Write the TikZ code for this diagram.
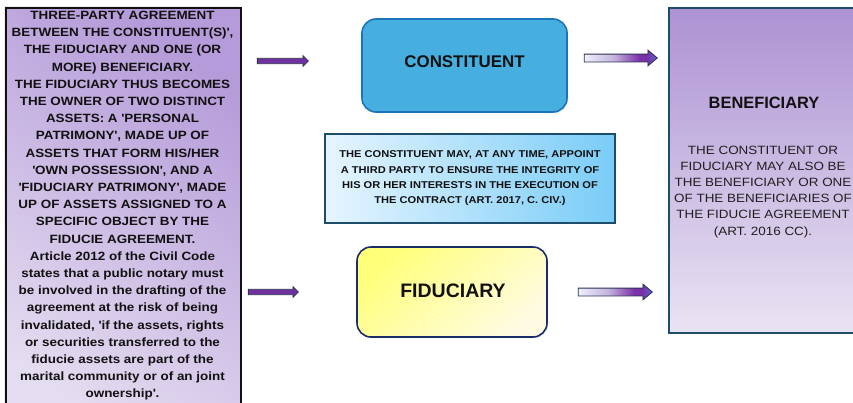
\documentclass[tikz,border=0pt]{standalone}
\usepackage{fontspec}
\setmainfont{Liberation Sans}[FakeStretch=1.12]
\newfontfamily\titlefont{Liberation Sans}
\usetikzlibrary{shapes.arrows,shadows}

\definecolor{inkblack}{HTML}{111111}
\definecolor{leftTop}{HTML}{B59BD9}
\definecolor{leftBot}{HTML}{E4DCF0}
\definecolor{constFill}{HTML}{47AFE0}
\definecolor{constLine}{HTML}{1B73B9}
\definecolor{tealLine}{HTML}{1D4D6B}
\definecolor{midLeft}{HTML}{E6F5FF}
\definecolor{midRight}{HTML}{79CCF7}
\definecolor{fidTop}{HTML}{FFFF7A}
\definecolor{fidBot}{HTML}{FFFBE2}
\definecolor{fidLine}{HTML}{1A2D6B}
\definecolor{benTop}{HTML}{AD92D3}
\definecolor{benBot}{HTML}{E9E4F3}
\definecolor{arrowPurple}{HTML}{7030A0}
\definecolor{arrowLine}{HTML}{2B3550}
\definecolor{shA}{HTML}{EEF0FA}
\definecolor{shB}{HTML}{C4B4DE}
\definecolor{shC}{HTML}{7A30A8}
\definecolor{shD}{HTML}{5A66C6}

% light-to-purple fill of the block arrows on the right
\pgfdeclarehorizontalshading{rightarrowshade}{100bp}{%
  color(0bp)=(shA); color(25bp)=(shA); color(45bp)=(shB);
  color(63bp)=(shC); color(68bp)=(shC); color(75bp)=(shD); color(100bp)=(shD)}

% straight apostrophe
\newcommand\sq{\textquotesingle}

\tikzset{
  boxshadow/.style={drop shadow={opacity=0.18, shadow xshift=1.2pt, shadow yshift=-1.2pt}},
  leftpanel/.style={draw=inkblack, line width=1.8pt, shading=axis,
    top color=leftTop, bottom color=leftBot, shading angle=-35,
    minimum width=235pt, minimum height=430pt, inner sep=0pt,
    drop shadow={opacity=0.15, shadow xshift=-1.5pt, shadow yshift=1.5pt}},
  lefttext/.style={text=inkblack, font=\bfseries\fontsize{12}{17.2}\selectfont,
    align=center, inner sep=0pt},
  constbox/.style={draw=constLine, line width=1.6pt, fill=constFill,
    rounded corners=14pt, minimum width=205pt, minimum height=93pt, boxshadow},
  notebox/.style={draw=tealLine, line width=2pt, shading=axis,
    left color=midLeft, right color=midRight,
    minimum width=290pt, minimum height=89pt, inner sep=0pt,
    font=\bfseries\fontsize{9.9}{15.3}\selectfont, text=inkblack, align=center, boxshadow},
  fidbox/.style={draw=fidLine, line width=1.6pt, shading=axis,
    top color=fidTop, bottom color=fidBot, shading angle=40,
    rounded corners=14pt, minimum width=190pt, minimum height=90pt, boxshadow},
  benbox/.style={draw=tealLine, line width=2pt, shading=axis,
    top color=benTop, bottom color=benBot,
    minimum width=188pt, minimum height=325pt, inner sep=0pt, boxshadow},
  titletext/.style={text=inkblack, font=\titlefont\bfseries\fontsize{#1}{#1}\selectfont, inner sep=0pt},
  bentext/.style={text=black!88, font=\fontsize{12}{16.1}\selectfont, align=center, inner sep=0pt},
  leftarrow/.style={single arrow, draw=arrowLine, fill=arrowPurple, line width=0.8pt,
    inner xsep=0pt, inner ysep=2.3pt, single arrow head extend=2.6pt,
    single arrow tip angle=90, minimum height=#1},
  rightarrow/.style={single arrow, draw=arrowLine, shading=rightarrowshade, line width=0.8pt,
    inner xsep=0pt, inner ysep=3.5pt, single arrow head extend=4pt,
    single arrow tip angle=80, minimum height=#1},
}

\begin{document}
\begin{tikzpicture}[x=1pt, y=-1pt]
\useasboundingbox[fill=white] (0,0) rectangle (853,402);

% left explanatory panel
\node[leftpanel, anchor=north west] (panel) at (5,7) {};
\node[lefttext, anchor=north] (paneltext) at (122.5,11) {%
THREE-PARTY AGREEMENT\\
BETWEEN THE CONSTITUENT(S)\sq,\\
THE FIDUCIARY AND ONE (OR\\
MORE) BENEFICIARY.\\
THE FIDUCIARY THUS BECOMES\\
THE OWNER OF TWO DISTINCT\\
ASSETS: A \sq PERSONAL\\
PATRIMONY\sq, MADE UP OF\\
ASSETS THAT FORM HIS/HER\\
\sq OWN POSSESSION\sq, AND A\\
\sq FIDUCIARY PATRIMONY\sq, MADE\\
UP OF ASSETS ASSIGNED TO A\\
SPECIFIC OBJECT BY THE\\
FIDUCIE AGREEMENT.\\
Article 2012 of the Civil Code\\
states that a public notary must\\
be involved in the drafting of the\\
agreement at the risk of being\\
invalidated, \sq if the assets, rights\\
or securities transferred to the\\
fiducie assets are part of the\\
marital community or of an joint\\
ownership\sq.};

% the three parties
\node[constbox] (constituent) at (464.5,65.5) {};
\node[titletext=16.9] (constlabel) at (464.5,62) {CONSTITUENT};

\node[notebox] (note) at (470,178.5) {%
THE CONSTITUENT MAY, AT ANY TIME, APPOINT\\
A THIRD PARTY TO ENSURE THE INTEGRITY OF\\
HIS OR HER INTERESTS IN THE EXECUTION OF\\
THE CONTRACT (ART. 2017, C. CIV.)};

\node[fidbox] (fiduciary) at (452,292) {};
\node[titletext=19.5] (fidlabel) at (453,291) {FIDUCIARY};

\node[benbox, anchor=north west] (beneficiary) at (668,7) {};
\node[titletext=16.4] (benlabel) at (764,103) {BENEFICIARY};
\node[bentext, anchor=north] (bennote) at (763,146) {%
THE CONSTITUENT OR\\
FIDUCIARY MAY ALSO BE\\
THE BENEFICIARY OR ONE\\
OF THE BENEFICIARIES OF\\
THE FIDUCIE AGREEMENT\\
(ART. 2016 CC).};

% block arrows
\node[leftarrow=51pt] (inTop) at (281.5,61) {};
\node[leftarrow=50pt] (inBot) at (272,292) {};
\node[rightarrow=73pt] (outTop) at (618.5,58) {};
\node[rightarrow=74pt] (outBot) at (613,292) {};
\end{tikzpicture}
\end{document}
